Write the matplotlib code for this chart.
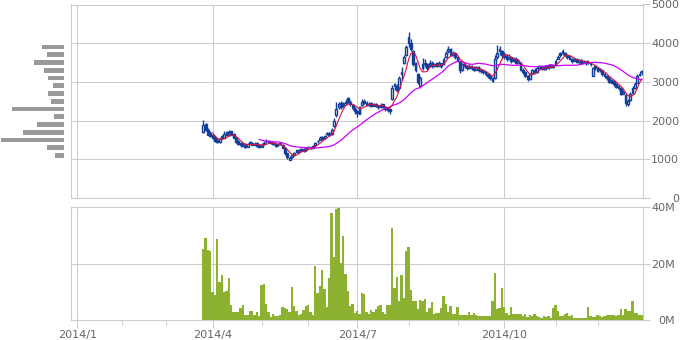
import numpy as np
import pandas as pd
import matplotlib
matplotlib.use("Agg")
import matplotlib.pyplot as plt
from matplotlib.ticker import FixedLocator

# ---------------- data ----------------
holidays = ['2014-01-01', '2014-01-02', '2014-01-03', '2014-01-13', '2014-02-11',
            '2014-03-21', '2014-04-29', '2014-05-05', '2014-05-06', '2014-07-21',
            '2014-09-15', '2014-09-23', '2014-10-13', '2014-11-03', '2014-11-24',
            '2014-12-23', '2014-12-31']
start_date = '2014-03-26'

open_ = [1700, 1900, 1760, 1680, 1620, 1560, 1500, 1440, 1600, 1560, 1700, 1620, 1720, 1650, 1560, 1460,
         1420, 1350, 1400, 1330, 1440, 1430, 1380, 1420, 1370, 1330, 1400, 1480, 1470, 1450, 1420, 1390,
         1360, 1400, 1380, 1300, 1150, 990, 1050, 1100, 1230, 1200, 1260, 1260, 1230, 1320, 1310, 1290,
         1380, 1470, 1500, 1580, 1540, 1680, 1680, 1650, 1850, 2150, 2350, 2450, 2450, 2480, 2580, 2480,
         2400, 2300, 2250, 2180, 2400, 2500, 2460, 2400, 2450, 2380, 2440, 2380, 2340, 2420, 2350, 2320,
         2290, 2550, 2950, 2900, 2850, 3200, 3480, 3700, 4150, 4000, 3800, 3480, 3200, 2900, 3350, 3500,
         3450, 3400, 3500, 3420, 3480, 3420, 3480, 3450, 3650, 3800, 3850, 3700, 3750, 3650, 3520, 3300,
         3460, 3400, 3360, 3420, 3360, 3320, 3380, 3320, 3290, 3260, 3200, 3150, 3100, 3100, 3650, 3850,
         3800, 3720, 3680, 3600, 3650, 3550, 3600, 3500, 3500, 3320, 3260, 3150, 3080, 3220, 3320, 3260,
         3370, 3400, 3330, 3400, 3350, 3430, 3380, 3450, 3600, 3740, 3800, 3750, 3700, 3660, 3600, 3550,
         3600, 3520, 3560, 3500, 3530, 3480, 3500, 3160, 3400, 3350, 3330, 3300, 3200, 3150, 3100, 2980,
         3030, 2950, 2900, 2850, 2700, 2650, 2420, 2520, 2720, 2850, 2980, 3180, 3280]
high = [2010, 1950, 1800, 1720, 1650, 1600, 1540, 1560, 1640, 1720, 1740, 1760, 1740, 1680, 1580, 1500,
        1440, 1420, 1420, 1430, 1470, 1450, 1440, 1440, 1390, 1420, 1470, 1520, 1500, 1480, 1440, 1420,
        1400, 1430, 1400, 1310, 1170, 1080, 1130, 1200, 1240, 1270, 1290, 1280, 1300, 1340, 1330, 1380,
        1450, 1500, 1600, 1610, 1640, 1710, 1700, 1800, 2080, 2480, 2480, 2500, 2480, 2560, 2620, 2520,
        2420, 2340, 2280, 2380, 2550, 2560, 2500, 2480, 2480, 2460, 2460, 2400, 2450, 2440, 2370, 2340,
        2310, 2920, 2980, 2950, 3150, 3380, 3700, 3950, 4290, 4100, 3820, 3520, 3240, 3150, 3620, 3600,
        3500, 3560, 3540, 3500, 3520, 3540, 3500, 3650, 3800, 3930, 3880, 3800, 3780, 3680, 3540, 3500,
        3490, 3440, 3450, 3440, 3400, 3420, 3400, 3350, 3320, 3280, 3230, 3180, 3120, 3700, 3950, 3930,
        3820, 3760, 3720, 3720, 3680, 3650, 3640, 3600, 3520, 3360, 3280, 3170, 3230, 3340, 3350, 3380,
        3440, 3420, 3420, 3420, 3450, 3450, 3440, 3600, 3700, 3760, 3850, 3780, 3720, 3700, 3620, 3640,
        3620, 3600, 3580, 3560, 3550, 3560, 3520, 3380, 3440, 3380, 3360, 3320, 3250, 3180, 3120, 3080,
        3050, 2970, 2920, 2870, 2800, 2680, 2560, 2750, 2900, 3000, 3200, 3280, 3300]
low = [1680, 1720, 1620, 1580, 1520, 1450, 1420, 1430, 1520, 1550, 1590, 1600, 1620, 1540, 1420, 1380,
       1330, 1340, 1300, 1320, 1390, 1360, 1370, 1330, 1300, 1320, 1380, 1430, 1420, 1400, 1370, 1330,
       1340, 1370, 1280, 1120, 1020, 970, 1040, 1090, 1170, 1190, 1220, 1200, 1220, 1280, 1260, 1280,
       1370, 1430, 1490, 1500, 1530, 1620, 1600, 1640, 1830, 2100, 2300, 2300, 2340, 2400, 2460, 2380,
       2280, 2180, 2100, 2170, 2380, 2420, 2370, 2390, 2350, 2370, 2350, 2300, 2330, 2320, 2260, 2230,
       2180, 2520, 2800, 2740, 2830, 3050, 3450, 3680, 3900, 3800, 3400, 3250, 2950, 2850, 3300, 3380,
       3300, 3380, 3360, 3380, 3380, 3400, 3360, 3430, 3620, 3750, 3680, 3680, 3600, 3520, 3240, 3280,
       3350, 3300, 3340, 3300, 3280, 3300, 3260, 3240, 3200, 3150, 3100, 3050, 2990, 3080, 3600, 3700,
       3620, 3580, 3550, 3580, 3500, 3520, 3460, 3480, 3280, 3200, 3120, 3030, 3050, 3200, 3220, 3240,
       3340, 3300, 3310, 3320, 3340, 3350, 3360, 3420, 3580, 3640, 3700, 3660, 3600, 3560, 3500, 3530,
       3490, 3500, 3460, 3480, 3440, 3460, 3420, 3140, 3300, 3250, 3260, 3150, 3100, 3050, 2960, 2960,
       2900, 2830, 2780, 2650, 2680, 2380, 2380, 2500, 2700, 2820, 2960, 3150, 3180]
close = [1880, 1750, 1640, 1600, 1560, 1480, 1450, 1520, 1560, 1650, 1620, 1680, 1640, 1560, 1450, 1400,
         1360, 1390, 1330, 1400, 1420, 1380, 1400, 1350, 1330, 1380, 1420, 1460, 1440, 1420, 1390, 1350,
         1370, 1390, 1300, 1150, 1060, 1030, 1100, 1170, 1200, 1230, 1250, 1220, 1280, 1310, 1290, 1350,
         1420, 1460, 1550, 1520, 1600, 1650, 1630, 1760, 1980, 2300, 2420, 2350, 2400, 2460, 2500, 2420,
         2330, 2250, 2200, 2350, 2480, 2450, 2400, 2430, 2380, 2420, 2380, 2340, 2400, 2350, 2300, 2280,
         2250, 2850, 2900, 2800, 3100, 3250, 3650, 3900, 4000, 3850, 3450, 3300, 3000, 3100, 3450, 3450,
         3350, 3500, 3400, 3450, 3420, 3480, 3400, 3600, 3750, 3850, 3700, 3750, 3650, 3550, 3300, 3450,
         3400, 3350, 3420, 3350, 3320, 3380, 3300, 3280, 3250, 3200, 3150, 3100, 3020, 3600, 3750, 3800,
         3700, 3650, 3600, 3650, 3550, 3600, 3500, 3550, 3300, 3250, 3150, 3080, 3200, 3300, 3250, 3350,
         3400, 3330, 3380, 3350, 3420, 3380, 3400, 3550, 3650, 3700, 3750, 3700, 3650, 3600, 3550, 3580,
         3520, 3560, 3500, 3520, 3480, 3500, 3450, 3350, 3350, 3280, 3300, 3200, 3150, 3100, 3000, 3050,
         2950, 2880, 2850, 2700, 2750, 2450, 2500, 2700, 2850, 2950, 3150, 3200, 3250]
volume_m = [25.1, 29.0, 24.9, 24.5, 9.9, 8.9, 28.6, 13.6, 15.9, 9.9, 10.3, 14.9, 5.3, 2.7, 2.7, 2.7,
            4.3, 5.3, 1.8, 1.8, 3.2, 3.2, 1.8, 2.8, 1.4, 12.4, 12.8, 5.7, 2.8, 0.9, 2.1, 1.4,
            1.4, 1.8, 4.6, 4.1, 3.9, 2.7, 11.7, 5.0, 3.2, 1.8, 2.1, 3.6, 5.0, 5.3, 2.8, 1.8,
            19.2, 9.6, 12.1, 17.8, 11.0, 4.6, 14.9, 38.0, 22.4, 39.4, 39.8, 20.1, 29.8, 16.3, 10.4, 5.0,
            5.7, 2.5, 3.2, 2.1, 9.6, 9.2, 2.8, 2.1, 3.6, 2.8, 3.9, 5.0, 5.3, 2.8, 2.1, 5.3,
            5.3, 32.7, 11.4, 15.3, 6.7, 16.0, 7.8, 24.5, 25.9, 10.7, 6.7, 6.7, 3.9, 7.1, 6.7, 7.5,
            2.8, 4.3, 6.4, 2.1, 2.5, 2.5, 4.3, 8.5, 5.7, 2.8, 5.0, 2.1, 2.1, 4.6, 1.8, 1.8,
            1.8, 1.8, 2.8, 1.8, 2.5, 1.8, 1.4, 1.3, 1.3, 1.4, 1.4, 1.4, 6.7, 16.8, 3.9, 4.3,
            11.5, 4.6, 2.5, 1.8, 4.6, 2.1, 2.0, 2.0, 2.0, 1.4, 2.1, 1.1, 1.8, 1.4, 2.1, 1.4,
            1.1, 0.7, 1.4, 1.1, 1.4, 0.7, 4.3, 5.3, 3.2, 1.4, 1.4, 2.1, 2.5, 1.4, 1.8, 0.7,
            0.7, 0.7, 0.7, 0.7, 0.7, 4.6, 1.4, 1.1, 1.1, 1.8, 1.4, 1.1, 1.4, 1.8, 1.8, 1.8,
            1.8, 1.4, 1.8, 3.9, 1.8, 3.9, 3.2, 3.2, 6.7, 2.5, 2.5, 1.8, 1.8]

# volume-by-price histogram (left side)
vbp_price = [1100, 1300, 1500, 1700, 1900, 2100, 2300, 2500, 2700, 2900, 3100, 3300, 3500, 3700, 3900]
vbp_volume = [9, 17, 63, 41, 27, 10, 52, 13, 16, 11, 16, 20, 30, 17, 22]

price_ticks = [0, 1000, 2000, 3000, 4000, 5000]
vol_ticks = [0, 20, 40]
vol_tick_labels = ['0M', '20M', '40M']
major_months = ['2014-01', '2014-04', '2014-07', '2014-10']
major_labels = ['2014/1', '2014/4', '2014/7', '2014/10']
minor_months = ['2014-02', '2014-03', '2014-05', '2014-06', '2014-08', '2014-09', '2014-11', '2014-12']

# ---------------- calendar ----------------
days = pd.bdate_range('2014-01-01', '2014-12-31')
days = days[~days.isin(pd.to_datetime(holidays))]
day_index = {d: k for k, d in enumerate(days)}
start_idx = day_index[pd.Timestamp(start_date)]
n = len(close)
x = start_idx + np.arange(n)

def month_pos(m):
    return int(np.argmax(days >= pd.Timestamp(m + '-01')))

major_pos = [month_pos(m) for m in major_months]
minor_pos = [month_pos(m) for m in minor_months]

o = np.array(open_, float); h = np.array(high, float)
l = np.array(low, float); c = np.array(close, float)
v = np.array(volume_m, float)
ma5 = pd.Series(c).rolling(5).mean()
ma25 = pd.Series(c).rolling(25).mean()

# ---------------- style ----------------
GRID = '#cccccc'
TXT = '#666666'
BLUE = '#123f9c'
HOLLOW = '#fffbe0'
RED = '#e0103c'
MAG = '#cc00ff'
GREEN = '#8db130'
FS = 8

W, H = 680, 340
fig = plt.figure(figsize=(W / 100, H / 100), dpi=100)

def rect(x0, y0, x1, y1):
    return [x0 / W, 1 - y1 / H, (x1 - x0) / W, (y1 - y0) / H]

ax = fig.add_axes(rect(71, 4.5, 643, 198))
axv = fig.add_axes(rect(71, 207.3, 643, 320))
axh = fig.add_axes(rect(0, 4.5, 64, 198))

xlim = (-2.7, x[-1] + 0.5)

# price panel
up = c >= o
body_lo = np.minimum(o, c)
body_h = np.maximum(np.abs(c - o), 20)
ax.vlines(x, l, h, color=BLUE, lw=1.0, zorder=2)
ax.bar(x[up], body_h[up], bottom=body_lo[up], width=0.8, facecolor=HOLLOW,
       edgecolor=BLUE, linewidth=1.0, zorder=3)
ax.bar(x[~up], body_h[~up], bottom=body_lo[~up], width=0.8, facecolor=BLUE,
       edgecolor=BLUE, linewidth=1.0, zorder=3)
ax.plot(x, ma25, color=MAG, lw=0.9, zorder=4)
ax.plot(x, ma5, color=RED, lw=0.8, zorder=5)

ax.set_xlim(*xlim)
ax.set_ylim(0, 5000)
ax.set_yticks(price_ticks)
ax.set_xticks(major_pos)
ax.yaxis.tick_right()
ax.tick_params(axis='x', length=0, labelbottom=False)
ax.tick_params(axis='y', length=5, width=0.75, color=GRID, labelcolor=TXT,
               labelsize=FS, pad=21)
for t in ax.get_yticklabels():
    t.set_horizontalalignment('right')
ax.grid(True, color=GRID, lw=0.75, zorder=0)
ax.set_axisbelow(True)

# volume panel
axv.bar(x, v, width=1.0, color=GREEN, linewidth=0, zorder=2)
axv.set_xlim(*xlim)
axv.set_ylim(0, 40)
axv.set_yticks(vol_ticks)
axv.set_yticklabels(vol_tick_labels)
axv.yaxis.tick_right()
axv.xaxis.set_major_locator(FixedLocator(major_pos))
axv.xaxis.set_minor_locator(FixedLocator(minor_pos))
axv.set_xticklabels(major_labels)
axv.tick_params(axis='x', which='major', length=6, width=0.75, color=GRID,
                labelcolor=TXT, labelsize=FS, pad=1)
axv.tick_params(axis='x', which='minor', length=3.6, width=0.75, color=GRID)
axv.tick_params(axis='y', length=5, width=0.75, color=GRID, labelcolor=TXT,
                labelsize=FS, pad=18)
for t in axv.get_yticklabels():
    t.set_horizontalalignment('right')
axv.grid(True, which='major', color=GRID, lw=0.75, zorder=0)
axv.set_axisbelow(True)

for a in (ax, axv):
    for s in a.spines.values():
        s.set_color(GRID)
        s.set_linewidth(0.75)

# volume-by-price histogram
axh.barh(vbp_price, vbp_volume, height=125, color='#999999', linewidth=0)
axh.set_ylim(0, 5000)
axh.set_xlim(max(vbp_volume) * 64 / 63, 0)
axh.axis('off')

fig.savefig('out.png', dpi=100)
